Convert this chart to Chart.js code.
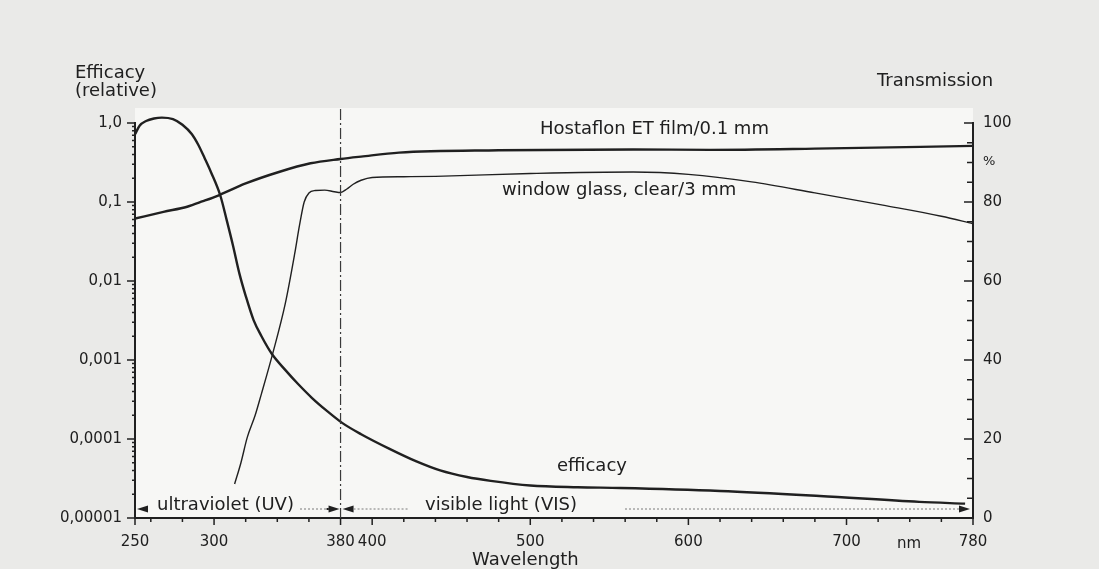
<!DOCTYPE html>
<html>
<head>
<meta charset="utf-8">
<title>Efficacy and transmission</title>
<script src="https://cdn.jsdelivr.net/npm/chart.js@4.4.1/dist/chart.umd.min.js"></script>
<style>
  html, body { margin: 0; padding: 0; background: #e9e9e7; }
  canvas { display: block; }
</style>
</head>
<body>
<canvas id="myChart" width="1099" height="569"></canvas>
<script>
// efficacy (relative, log axis on the left)
var effWl  = [250, 253, 257, 262, 267, 274, 280, 286, 290, 294, 298, 304, 308, 312, 316, 320, 325, 330, 336.5, 345, 353, 362, 371, 381, 393, 411, 428, 443, 460, 475, 500, 530, 557, 620, 683, 746, 775];
var effVal = [0.72, 0.93, 1.06, 1.14, 1.17, 1.12, 0.95, 0.72, 0.53, 0.36, 0.24, 0.12, 0.059, 0.028, 0.0125, 0.0065, 0.0032, 0.002, 0.0012, 0.00075, 0.0005, 0.00033, 0.00023, 0.00016, 0.000115, 0.000075, 0.000052, 0.00004, 0.000033, 0.0000295, 0.0000258, 0.0000245, 0.000024, 0.000022, 0.000019, 0.000016, 0.0000152];

// Hostaflon ET film/0.1 mm, transmission in %
var hostWl  = [250, 268, 283, 293, 303, 320, 341, 361, 380, 393, 417, 480, 565, 614, 680, 780];
var hostVal = [75.8, 77.5, 78.8, 80.2, 81.7, 84.7, 87.6, 89.8, 90.9, 91.5, 92.5, 93.1, 93.3, 93.2, 93.5, 94.2];

// window glass, clear/3 mm, transmission in %
var glassWl  = [313, 317, 321, 326, 330, 337, 345, 351, 354, 357, 360, 364, 370, 376, 380, 384, 388, 393, 400, 420, 440, 500, 565, 600, 640, 680, 723, 760, 780];
var glassVal = [8.6, 14, 20.4, 26, 31.5, 41.5, 54.2, 66.9, 74, 80, 82.3, 82.9, 83, 82.6, 82.4, 83.3, 84.5, 85.5, 86.2, 86.4, 86.5, 87.2, 87.6, 87.0, 85.1, 82.3, 79.2, 76.4, 74.5];

var uvLimit = 380;
var xTickVals = [250, 260, 280, 300, 320, 340, 360, 380, 400, 420, 440, 460, 480, 500, 520, 540, 560, 580, 600, 620, 640, 660, 680, 700, 720, 740, 760, 780];
var xLabelVals = [250, 300, 380, 400, 500, 600, 700, 780];
var yTickVals = [1, 0.1, 0.01, 0.001, 0.0001, 0.00001];
var yTickLabels = ['1,0', '0,1', '0,01', '0,001', '0,0001', '0,00001'];

var ink = '#202020';
var tickFont = { family: 'DejaVu Sans', size: 15 };

function pts(xs, ys) {
  return xs.map(function (x, i) { return { x: x, y: ys[i] }; });
}

function txt(ctx, s, x, y, size, align) {
  ctx.font = size + 'px "DejaVu Sans"';
  ctx.textAlign = align || 'left';
  ctx.textBaseline = 'alphabetic';
  ctx.fillText(s, x, y);
}

function head(ctx, tip, y, dir) {
  ctx.beginPath();
  ctx.moveTo(tip, y);
  ctx.lineTo(tip - dir * 11, y - 3.5);
  ctx.lineTo(tip - dir * 11, y + 3.5);
  ctx.closePath();
  ctx.fill();
}

function dotted(ctx, x1, x2, y) {
  ctx.save();
  ctx.strokeStyle = '#7a7a7a';
  ctx.lineWidth = 1;
  ctx.setLineDash([2, 2]);
  ctx.beginPath();
  ctx.moveTo(x1, y);
  ctx.lineTo(x2, y);
  ctx.stroke();
  ctx.restore();
}

var decor = {
  id: 'decor',
  beforeDraw: function (chart) {
    var ctx = chart.ctx, a = chart.chartArea;
    ctx.save();
    ctx.fillStyle = '#eaeae8';
    ctx.fillRect(0, 0, chart.width, chart.height);
    ctx.fillStyle = '#f7f7f5';
    ctx.fillRect(a.left, a.top - 15, a.right - a.left, a.bottom - a.top + 15);
    ctx.restore();
  },
  afterDraw: function (chart) {
    var ctx = chart.ctx, a = chart.chartArea;
    var x = chart.scales.x, y = chart.scales.y, y2 = chart.scales.y2;
    ctx.save();
    ctx.strokeStyle = ink;
    ctx.fillStyle = ink;
    ctx.lineWidth = 1.5;

    // tick marks
    ctx.beginPath();
    xTickVals.forEach(function (v) {
      var px = x.getPixelForValue(v);
      var len = xLabelVals.indexOf(v) >= 0 ? 7 : 4;
      ctx.moveTo(px, a.bottom);
      ctx.lineTo(px, a.bottom + len);
    });
    yTickVals.forEach(function (v) {
      var py = y.getPixelForValue(v);
      ctx.moveTo(a.left - 8, py);
      ctx.lineTo(a.left, py);
      if (v < 1) {
        for (var k = 2; k < 10; k++) {
          var pm = y.getPixelForValue(v * k);
          ctx.moveTo(a.left - 3, pm);
          ctx.lineTo(a.left, pm);
        }
      }
    });
    y2.ticks.forEach(function (t) {
      var py = y2.getPixelForValue(t.value);
      ctx.moveTo(a.right - (t.value % 20 === 0 ? 9 : 6), py);
      ctx.lineTo(a.right, py);
    });
    ctx.stroke();

    // UV / VIS boundary
    var xb = x.getPixelForValue(uvLimit);
    ctx.save();
    ctx.lineWidth = 1.2;
    ctx.strokeStyle = '#3a3a3a';
    ctx.setLineDash([11, 3, 2, 3]);
    ctx.beginPath();
    ctx.moveTo(xb, a.top - 14);
    ctx.lineTo(xb, a.bottom);
    ctx.stroke();
    ctx.restore();

    // range arrows
    var ya = a.bottom - 9;
    var x0 = x.getPixelForValue(250), x1 = x.getPixelForValue(780);
    head(ctx, x0 + 2, ya, -1);
    head(ctx, xb - 1, ya, 1);
    head(ctx, xb + 2, ya, -1);
    head(ctx, x1 - 3, ya, 1);
    ctx.fillRect(xb - 14, ya - 1, 6, 2);
    dotted(ctx, 300, xb - 12, ya);
    dotted(ctx, xb + 13, 408, ya);
    dotted(ctx, 625, x1 - 14, ya);

    // texts
    txt(ctx, 'ultraviolet (UV)', 157, 510, 18);
    txt(ctx, 'visible light (VIS)', 425, 510, 18);
    txt(ctx, 'efficacy', 557, 471, 18);
    txt(ctx, 'Hostaflon ET film/0.1 mm', 540, 134, 18);
    txt(ctx, 'window glass, clear/3 mm', 502, 195, 18);
    txt(ctx, 'Efficacy', 75, 78, 18);
    txt(ctx, '(relative)', 75, 96, 18);
    txt(ctx, 'Transmission', 877, 86, 18);
    txt(ctx, '%', 983, 165, 13);
    txt(ctx, 'nm', 897, 548, 15);
    txt(ctx, 'Wavelength', 472, 565, 18);
    ctx.restore();
  }
};

var chart = new Chart(document.getElementById('myChart').getContext('2d'), {
  type: 'line',
  data: {
    datasets: [
      {
        label: 'efficacy',
        data: pts(effWl, effVal),
        yAxisID: 'y',
        borderColor: ink,
        borderWidth: 2.4,
        clip: false
      },
      {
        label: 'Hostaflon ET film/0.1 mm',
        data: pts(hostWl, hostVal),
        yAxisID: 'y2',
        borderColor: ink,
        borderWidth: 2.4
      },
      {
        label: 'window glass, clear/3 mm',
        data: pts(glassWl, glassVal),
        yAxisID: 'y2',
        borderColor: ink,
        borderWidth: 1.4
      }
    ]
  },
  options: {
    responsive: false,
    animation: false,
    layout: { padding: { top: 123, left: 0, right: 0, bottom: 0 } },
    elements: {
      point: { radius: 0 },
      line: { cubicInterpolationMode: 'monotone', fill: false }
    },
    plugins: { legend: { display: false }, tooltip: { enabled: false } },
    scales: {
      x: {
        type: 'linear',
        min: 250,
        max: 780,
        grid: { display: false, drawTicks: false },
        border: { display: true, color: ink, width: 2 },
        ticks: {
          autoSkip: false,
          maxRotation: 0,
          padding: 15,
          color: ink,
          font: tickFont,
          callback: function (v) { return xLabelVals.indexOf(v) >= 0 ? String(v) : ''; }
        },
        afterBuildTicks: function (s) {
          s.ticks = xTickVals.map(function (v) { return { value: v }; });
        },
        afterFit: function (s) { s.height = 51; }
      },
      y: {
        type: 'logarithmic',
        position: 'left',
        min: 0.00001,
        max: 1,
        grid: { display: false, drawTicks: false },
        border: { display: true, color: ink, width: 2 },
        ticks: {
          padding: 13,
          color: ink,
          font: tickFont,
          callback: function (v) {
            var i = yTickVals.indexOf(v);
            return i >= 0 ? yTickLabels[i] : '';
          }
        },
        afterBuildTicks: function (s) {
          s.ticks = yTickVals.map(function (v) { return { value: v }; });
        },
        afterFit: function (s) { s.width = 135; }
      },
      y2: {
        type: 'linear',
        position: 'right',
        min: 0,
        max: 100,
        grid: { display: false, drawTicks: false },
        border: { display: true, color: ink, width: 2 },
        ticks: {
          stepSize: 5,
          maxTicksLimit: 30,
          autoSkip: false,
          padding: 10,
          color: ink,
          font: tickFont,
          callback: function (v) { return v % 20 === 0 ? String(v) : ''; }
        },
        afterFit: function (s) { s.width = 126; }
      }
    }
  },
  plugins: [decor]
});
</script>
</body>
</html>
